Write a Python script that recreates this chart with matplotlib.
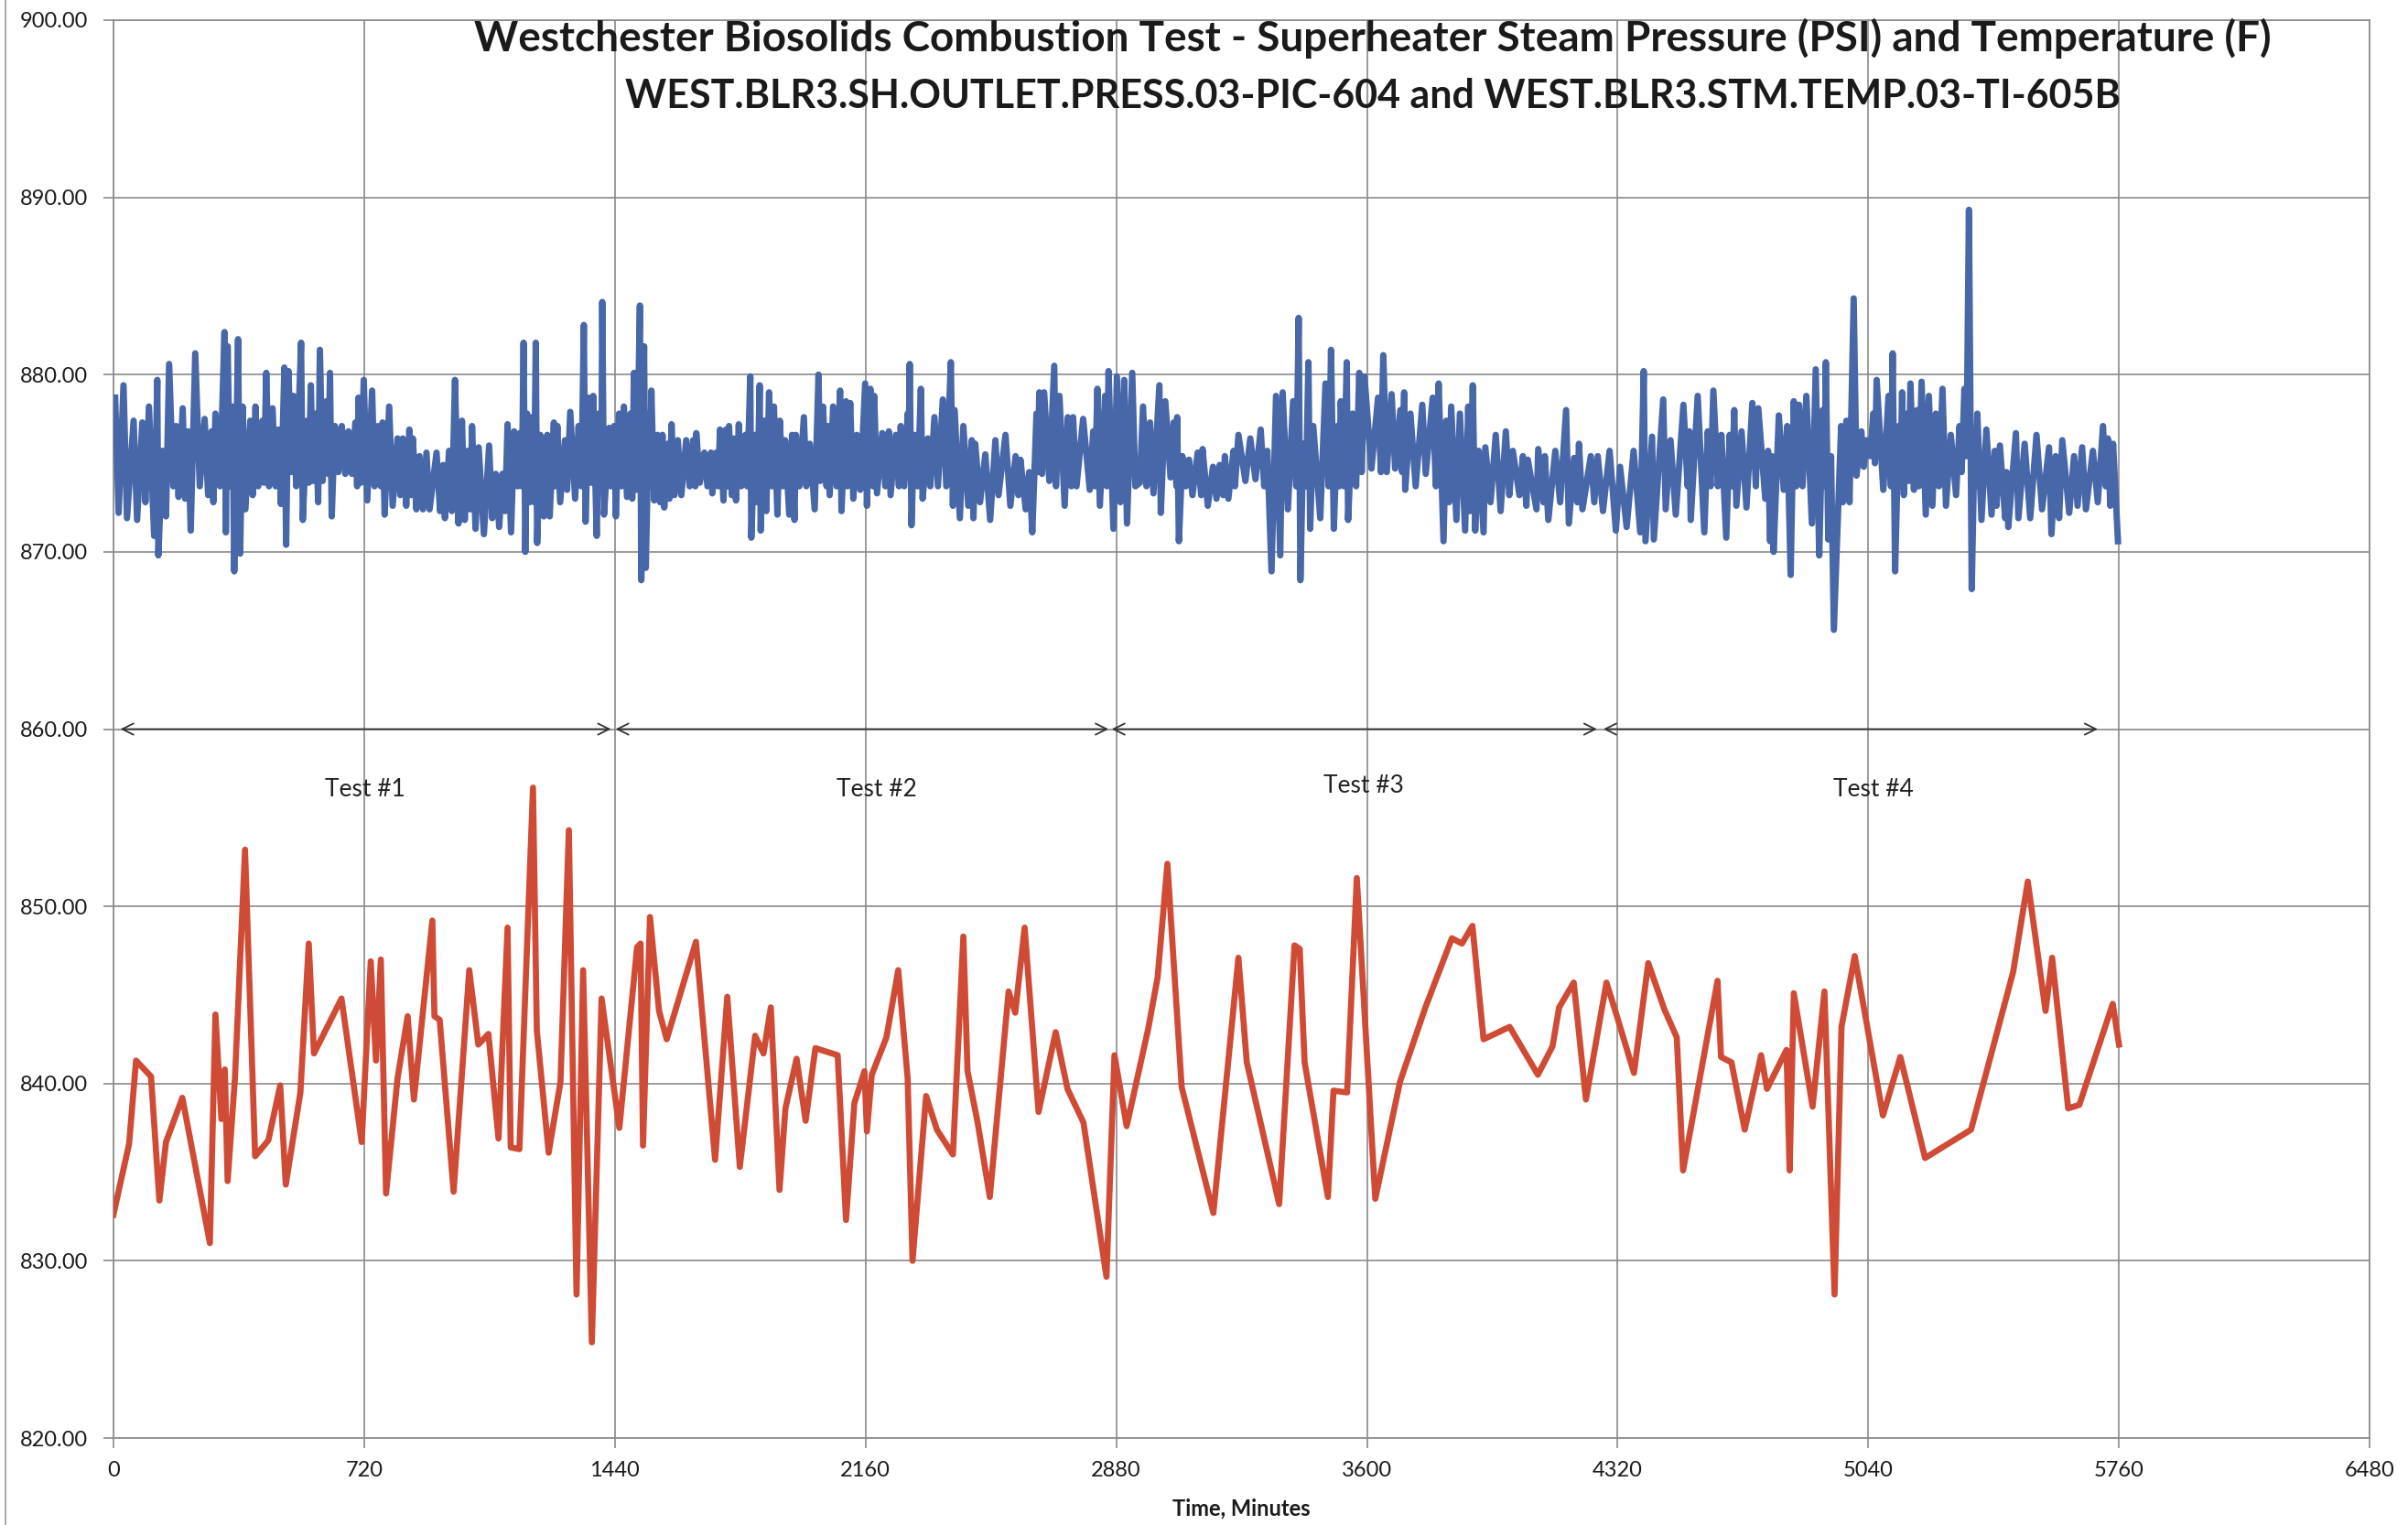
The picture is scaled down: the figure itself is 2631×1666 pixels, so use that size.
import matplotlib
matplotlib.use("Agg")
import matplotlib.pyplot as plt
from matplotlib.lines import Line2D

# superheater steam pressure (PSI), peaks and troughs
pressure_minutes = [
    5, 15, 29, 39, 58, 68, 83, 92, 102, 117, 126, 129, 141, 151, 160, 172, 180, 187, 199, 206,
    214, 222, 235, 248, 262, 272, 282, 287, 293, 306, 319, 323, 328, 335, 342, 347, 358, 364, 371, 379,
    393, 400, 408, 416, 428, 432, 439, 447, 457, 466, 474, 481, 491, 496, 503, 510, 517, 525, 539, 544,
    556, 561, 567, 573, 581, 588, 593, 601, 612, 617, 622, 627, 636, 646, 656, 666, 675, 685, 695, 700,
    704, 711, 719, 729, 743, 750, 758, 768, 773, 779, 792, 802, 816, 824, 831, 841, 850, 855, 860, 870,
    879, 889, 899, 908, 928, 938, 947, 952, 964, 972, 981, 991, 1001, 1009, 1018, 1025, 1030, 1040, 1049, 1064,
    1079, 1088, 1098, 1108, 1117, 1125, 1132, 1142, 1151, 1161, 1167, 1173, 1178, 1183, 1188, 1195, 1203, 1208, 1213, 1217,
    1226, 1236, 1246, 1253, 1265, 1268, 1275, 1283, 1297, 1303, 1312, 1326, 1336, 1344, 1351, 1356, 1365, 1372, 1378, 1388,
    1394, 1401, 1404, 1409, 1424, 1428, 1438, 1443, 1452, 1459,
    1466, 1475, 1485, 1490, 1495, 1503, 1512, 1516, 1524, 1529, 1538, 1541, 1545, 1553, 1563, 1570, 1577, 1582, 1592, 1597,
    1603, 1611, 1621, 1631, 1645, 1655, 1665, 1671, 1674, 1684, 1697, 1706, 1716, 1720, 1731, 1737, 1742, 1752, 1759, 1764,
    1768, 1776, 1781, 1788, 1796, 1803, 1815, 1820, 1829, 1832, 1842, 1849, 1856, 1859, 1868, 1875, 1883, 1891, 1897, 1907,
    1914, 1922, 1929, 1941, 1949, 1956, 1960, 1970, 1983, 1990, 2000, 2014, 2025, 2030, 2038, 2048, 2053, 2057, 2067, 2077,
    2087, 2091, 2104, 2108, 2116, 2125, 2135, 2145, 2159, 2164, 2174, 2182, 2185, 2193, 2208, 2217, 2227, 2232, 2247, 2256,
    2261, 2271, 2281, 2283, 2287, 2292, 2300, 2310, 2319, 2324, 2339, 2346, 2358, 2368, 2382, 2392, 2405, 2411, 2416, 2431,
    2441, 2455, 2465, 2470, 2475, 2489, 2504, 2518, 2533, 2542, 2562, 2576, 2591, 2599, 2605, 2620, 2630, 2639, 2651, 2655,
    2659, 2667, 2673, 2688, 2702, 2707, 2717, 2732, 2741, 2751, 2756, 2766, 2785, 2804, 2814, 2819, 2826, 2833, 2848, 2853,
    2858, 2872, 2882, 2892, 2903, 2911, 2926, 2935,
    2948, 2957, 2967, 2977, 2987, 3004, 3008, 3021, 3036, 3045, 3053, 3055, 3060, 3070, 3080, 3089, 3099, 3114, 3124, 3128,
    3143, 3158, 3168, 3177, 3187, 3192, 3202, 3217, 3221, 3231, 3251, 3265, 3280, 3295, 3305, 3314, 3326, 3339, 3351, 3358,
    3373, 3388, 3397, 3404, 3409, 3417, 3425, 3432, 3437, 3446, 3466, 3481, 3490, 3497, 3505, 3515, 3520, 3525, 3534, 3542,
    3546, 3559, 3569, 3578, 3585, 3593, 3613, 3632, 3640, 3647, 3657, 3671, 3681, 3696, 3701, 3707, 3710, 3725, 3740, 3759,
    3769, 3789, 3798, 3806, 3820, 3828, 3836, 3842, 3857, 3867, 3882, 3891, 3896, 3904, 3911, 3921, 3935, 3940, 3955, 3970,
    3984, 3999, 4009, 4019, 4038, 4048, 4058, 4062, 4087, 4092, 4107, 4111, 4121, 4141, 4155, 4172, 4180, 4195, 4204, 4209,
    4219, 4243, 4253, 4263, 4278, 4297, 4315, 4327, 4346, 4366, 4385, 4395, 4400, 4419,
    4424, 4451, 4458, 4472, 4487, 4509, 4521, 4526, 4530, 4550, 4569, 4579, 4587, 4595, 4608, 4618, 4632, 4642, 4649, 4655,
    4661, 4676, 4690, 4707, 4717, 4724, 4744, 4752, 4758, 4763, 4768, 4783, 4797, 4807, 4817, 4826, 4833, 4841, 4851, 4862,
    4878, 4889, 4899, 4909, 4914, 4918, 4925, 4933, 4941, 4962, 4967, 4977, 4986, 4998, 5006, 5020, 5027, 5035, 5046, 5054,
    5059, 5064, 5083, 5098, 5105, 5110, 5117, 5127, 5132, 5137, 5142, 5151, 5156, 5161, 5171, 5180, 5185, 5193, 5205, 5214,
    5224, 5234, 5243, 5253, 5263, 5277, 5292, 5302, 5308, 5316, 5322, 5329, 5337, 5345, 5348, 5353, 5365, 5379, 5394, 5403,
    5408, 5418, 5433, 5437, 5442, 5464, 5471, 5489, 5505, 5523, 5539, 5559, 5566, 5578, 5588, 5597, 5617, 5631, 5641, 5654,
    5665, 5685, 5699, 5714, 5722, 5728, 5735, 5743, 5757,
]
pressure_psi = [
    878.7, 872.2, 879.4, 871.9, 877.4, 871.8, 877.3, 872.8, 878.2, 870.9, 879.7, 869.8, 875.7, 872.0, 880.6, 873.7, 877.1, 873.1, 878.1, 873.0,
    876.8, 871.2, 881.2, 873.7, 877.5, 873.2, 876.8, 872.8, 877.8, 873.7, 882.4, 871.1, 881.6, 873.7, 878.2, 868.9, 882.0, 869.9, 878.2, 872.4,
    877.4, 873.2, 878.2, 873.7, 877.4, 873.9, 880.1, 873.7, 878.1, 873.7, 876.9, 872.7, 880.4, 870.4, 880.2, 874.5, 878.8, 873.7, 881.8, 871.8,
    877.4, 873.9, 879.4, 874.0, 877.8, 872.8, 881.4, 874.0, 878.5, 874.4, 880.1, 872.0, 877.1, 874.5, 877.1, 874.4, 876.8, 874.4, 877.3, 873.7,
    878.7, 873.9, 879.7, 872.9, 879.1, 873.7, 877.1, 873.7, 877.3, 872.1, 878.2, 872.6, 876.4, 873.2, 876.4, 872.6, 876.9, 873.2, 876.4, 872.4,
    875.4, 872.4, 875.6, 872.4, 875.6, 872.3, 874.9, 871.9, 875.7, 872.3, 879.7, 871.6, 877.4, 871.8, 875.7, 872.4, 877.1, 871.3, 875.9, 871.0,
    876.0, 871.9, 874.4, 871.4, 874.4, 872.3, 877.2, 871.1, 876.8, 873.7, 876.7, 873.7, 881.8, 870.0, 877.8, 872.8, 877.6, 872.8, 881.8, 870.5,
    876.6, 872.0, 876.6, 872.0, 877.3, 873.7, 877.1, 872.8, 876.3, 873.5, 877.9, 873.0, 877.1, 873.7, 882.8, 871.7, 878.7, 873.9, 878.8, 870.9,
    877.8, 873.7, 884.1, 872.1, 877.0, 873.7, 877.1, 872.0, 877.8, 873.7,
    878.2, 873.1, 877.8, 873.0, 880.1, 873.5, 883.9, 868.4, 881.6, 869.1, 877.8, 873.7, 879.1, 872.9, 876.6, 872.8, 876.6, 872.5, 876.1, 873.0,
    877.2, 873.2, 876.3, 873.2, 876.3, 873.7, 876.3, 873.7, 876.7, 873.9, 875.6, 873.7, 875.6, 873.3, 875.6, 873.7, 876.9, 872.9, 876.9, 873.7,
    877.1, 873.2, 876.4, 872.9, 877.2, 873.7, 876.6, 873.7, 879.9, 870.8, 876.6, 872.8, 879.4, 871.2, 877.4, 872.3, 879.0, 873.7, 878.2, 872.1,
    877.4, 873.7, 876.3, 872.1, 876.6, 871.8, 876.6, 873.7, 877.6, 873.7, 876.1, 872.4, 880.0, 874.0, 878.2, 873.7, 877.1, 873.2, 878.2, 873.7,
    879.1, 872.3, 878.5, 873.7, 878.4, 873.0, 876.6, 873.5, 879.5, 872.6, 879.2, 873.7, 878.8, 873.3, 876.7, 873.7, 876.8, 873.2, 876.6, 873.7,
    877.1, 873.7, 877.8, 874.2, 880.6, 871.5, 876.6, 873.7, 879.2, 873.0, 876.4, 873.7, 877.6, 873.7, 878.6, 873.7, 880.7, 872.6, 878.0, 871.9,
    877.1, 872.6, 876.3, 871.9, 876.1, 872.8, 875.5, 871.8, 876.3, 873.2, 876.6, 872.6, 875.4, 873.2, 875.2, 872.4, 874.5, 871.1, 877.8, 874.5,
    879.0, 874.4, 879.0, 874.0, 880.5, 873.7, 878.8, 872.6, 877.6, 873.7, 877.6, 873.7, 877.5, 873.5, 876.8, 873.7, 879.2, 872.6, 878.8, 873.7,
    880.2, 871.3, 879.9, 872.8, 879.7, 871.6, 880.1, 873.7,
    873.9, 878.2, 873.7, 877.3, 873.3, 879.4, 872.2, 878.5, 874.2, 877.3, 873.7, 877.6, 870.6, 875.4, 873.7, 875.2, 873.2, 875.6, 873.2, 875.8,
    872.6, 874.8, 873.0, 874.9, 873.2, 875.4, 873.0, 875.7, 873.7, 876.6, 874.0, 876.4, 874.1, 876.9, 873.7, 875.7, 868.9, 878.8, 869.8, 879.0,
    872.4, 878.5, 873.7, 883.2, 868.4, 876.1, 873.7, 880.7, 871.3, 877.1, 871.9, 879.5, 873.7, 881.4, 871.3, 877.1, 873.7, 878.5, 873.7, 880.7,
    871.8, 877.8, 873.7, 880.1, 874.5, 879.9, 874.7, 878.7, 874.5, 881.1, 874.5, 878.9, 874.7, 878.0, 874.5, 879.0, 873.5, 877.8, 873.7, 878.3,
    874.4, 878.7, 873.7, 879.5, 870.6, 877.4, 872.8, 878.2, 871.8, 877.8, 871.2, 878.2, 872.3, 879.4, 871.2, 875.7, 871.1, 875.9, 872.8, 876.6,
    872.3, 876.8, 873.2, 875.7, 873.2, 875.4, 872.6, 875.2, 872.4, 875.8, 872.8, 875.4, 871.8, 875.7, 872.8, 878.0, 871.6, 875.3, 872.8, 876.1,
    872.4, 875.4, 872.8, 875.4, 872.3, 875.7, 871.2, 874.8, 871.4, 875.7, 871.1, 880.2, 870.6, 876.5,
    870.7, 878.6, 872.4, 876.3, 872.1, 878.3, 873.7, 876.8, 871.8, 878.8, 871.1, 876.8, 873.7, 879.1, 873.7, 876.6, 870.8, 876.6, 873.7, 878.0,
    872.6, 876.8, 872.5, 878.4, 873.7, 878.1, 873.0, 875.7, 870.6, 875.4, 870.0, 877.7, 873.5, 877.1, 868.7, 878.5, 873.7, 878.3, 873.7, 878.8,
    871.6, 880.3, 869.8, 878.0, 873.7, 880.7, 870.7, 875.4, 865.6, 877.1, 872.8, 877.4, 872.8, 884.3, 874.3, 876.8, 874.8, 876.3, 875.4, 877.8,
    875.0, 879.7, 873.5, 878.8, 873.7, 881.2, 868.9, 877.1, 873.7, 879.0, 873.2, 877.8, 874.0, 879.5, 873.5, 878.0, 873.7, 879.6, 872.1, 878.8,
    872.6, 877.8, 873.7, 879.2, 872.6, 876.6, 873.2, 877.1, 874.5, 879.2, 875.4, 889.3, 867.9, 876.1, 873.7, 877.8, 871.8, 876.9, 872.1, 875.7,
    872.6, 876.0, 871.9, 874.5, 871.4, 876.7, 871.9, 876.1, 871.9, 876.6, 872.4, 875.9, 871.0, 875.4, 871.9, 876.3, 872.2, 875.4, 872.6, 875.9,
    872.4, 875.7, 872.8, 877.1, 873.7, 876.4, 872.6, 876.1, 870.6,
]

# steam temperature (F)
temp_minutes = [
    0, 45, 65, 108, 132, 151, 198, 277, 293, 310, 320, 328, 349, 378, 407, 445, 479, 495, 537, 561,
    576, 655, 713, 739, 754, 768, 783, 816, 845, 863, 916, 922, 937, 977, 1022, 1048, 1077, 1106, 1132, 1141,
    1166, 1205, 1216, 1250, 1284, 1308, 1330, 1349, 1374, 1402, 1453, 1504, 1514, 1521, 1541, 1567, 1589, 1673, 1728, 1763,
    1799, 1843, 1867, 1888, 1913, 1930, 1962, 1988, 2016, 2080, 2104, 2128, 2157, 2164, 2178, 2220, 2254, 2281, 2295, 2334,
    2365, 2411, 2441, 2453, 2482, 2517, 2571, 2590, 2617, 2657, 2706, 2740, 2786, 2852, 2875, 2910, 2972, 2999, 3027, 3068,
    3159, 3231, 3255, 3348, 3392, 3407, 3421, 3488, 3504, 3543, 3571, 3624, 3695, 3768, 3844, 3873, 3903, 3935, 4010, 4091,
    4133, 4152, 4194, 4229, 4288, 4318, 4367, 4408, 4454, 4490, 4508, 4607, 4617, 4647, 4685, 4732, 4749, 4805, 4814, 4826,
    4880, 4914, 4943, 4963, 5001, 5082, 5132, 5203, 5335, 5456, 5498, 5549, 5568, 5614, 5646, 5742, 5760,
]
temp_f = [
    832.6, 836.6, 841.3, 840.4, 833.4, 836.7, 839.2, 831.0, 843.9, 838.0, 840.8, 834.5, 840.3, 853.2, 835.9, 836.8, 839.9, 834.3, 839.5, 847.9,
    841.7, 844.8, 836.7, 846.9, 841.3, 847.0, 833.8, 840.3, 843.8, 839.1, 849.2, 843.8, 843.6, 833.9, 846.4, 842.2, 842.8, 836.9, 848.8, 836.4,
    836.3, 856.7, 843.0, 836.1, 840.1, 854.3, 828.1, 846.4, 825.4, 844.8, 837.5, 847.7, 847.9, 836.5, 849.4, 844.1, 842.5, 848.0, 835.7, 844.9,
    835.3, 842.7, 841.7, 844.3, 834.0, 838.6, 841.4, 837.9, 842.0, 841.6, 832.3, 838.9, 840.7, 837.3, 840.5, 842.6, 846.4, 840.3, 830.0, 839.3,
    837.4, 836.0, 848.3, 840.7, 837.8, 833.6, 845.2, 844.0, 848.8, 838.4, 842.9, 839.7, 837.8, 829.1, 841.6, 837.6, 843.1, 846.0, 852.4, 839.8,
    832.7, 847.1, 841.2, 833.2, 847.8, 847.6, 841.2, 833.6, 839.6, 839.5, 851.6, 833.5, 840.1, 844.3, 848.2, 847.9, 848.9, 842.5, 843.2, 840.5,
    842.1, 844.3, 845.7, 839.1, 845.7, 843.8, 840.6, 846.8, 844.2, 842.6, 835.1, 845.8, 841.5, 841.2, 837.4, 841.6, 839.7, 841.9, 835.1, 845.1,
    838.7, 845.2, 828.1, 843.2, 847.2, 838.2, 841.5, 835.8, 837.4, 846.3, 851.4, 844.1, 847.1, 838.6, 838.8, 844.5, 842.2,
]

# test periods marked with arrows at 860
test_names = ["Test #1", "Test #2", "Test #3", "Test #4"]
test_starts = [20, 1442, 2867, 4279]
test_ends = [1429, 2858, 4261, 5699]
test_label_x = [723, 2192, 3591, 5055]
test_label_y = [856.6, 856.6, 856.8, 856.6]

x_ticks = [0, 720, 1440, 2160, 2880, 3600, 4320, 5040, 5760, 6480]
y_ticks = [820, 830, 840, 850, 860, 870, 880, 890, 900]

title_1 = "Westchester Biosolids Combustion Test - Superheater Steam Pressure (PSI) and Temperature (F)"
title_2 = "WEST.BLR3.SH.OUTLET.PRESS.03-PIC-604 and WEST.BLR3.STM.TEMP.03-TI-605B"

plt.rcParams['font.family'] = ['Lato', 'DejaVu Sans']

grid_col = "#8a8a8a"

fig = plt.figure(figsize=(26.31, 16.66), dpi=100)
ax = fig.add_axes([0.0471, 0.0570, 0.9370, 0.9298])

ax.plot(pressure_minutes, pressure_psi, color="#4767a9", lw=5.0, solid_joinstyle="round", zorder=3)
ax.plot(temp_minutes, temp_f, color="#cf4b35", lw=4.8, solid_joinstyle="round", zorder=3)

for start, end in zip(test_starts, test_ends):
    ax.annotate("", xy=(end, 860), xytext=(start, 860),
                arrowprops=dict(arrowstyle="<->", color="#333333", lw=1.3,
                                mutation_scale=22, shrinkA=0, shrinkB=0), zorder=4)
for name, lx, ly in zip(test_names, test_label_x, test_label_y):
    ax.text(lx, ly, name, ha="center", va="center", fontsize=19, color="#222222")

ax.set_xlim(0, 6480)
ax.set_ylim(820, 900)
ax.set_xticks(x_ticks)
ax.set_yticks(y_ticks)
ax.set_xticklabels([str(t) for t in x_ticks])
ax.set_yticklabels([f"{v:.2f}" for v in y_ticks])
ax.tick_params(axis="both", direction="out", length=8, width=1.2, color=grid_col,
               labelsize=17, labelcolor="#1a1a1a")
ax.tick_params(axis="x", pad=10)
ax.tick_params(axis="y", pad=12)
ax.grid(True, color=grid_col, lw=1.2)
ax.set_axisbelow(True)
for s in ax.spines.values():
    s.set_color(grid_col)
    s.set_linewidth(1.2)

fig.text(0.0471 + 0.9370 / 2, 0.011, "Time, Minutes", ha="center", va="center",
         fontsize=17, fontweight="bold", color="#1a1a1a")
fig.text(0.570, 0.975, title_1, ha="center", va="center", fontsize=33, fontweight="bold", color="#1a1a1a")
fig.text(0.570, 0.937, title_2, ha="center", va="center", fontsize=31, fontweight="bold", color="#1a1a1a")

# left page edge of the scanned chart
fig.add_artist(Line2D([0.0023, 0.0023], [0, 1], color="#999999", lw=1.2, transform=fig.transFigure))

fig.savefig("out.png", dpi=100, facecolor="white")
